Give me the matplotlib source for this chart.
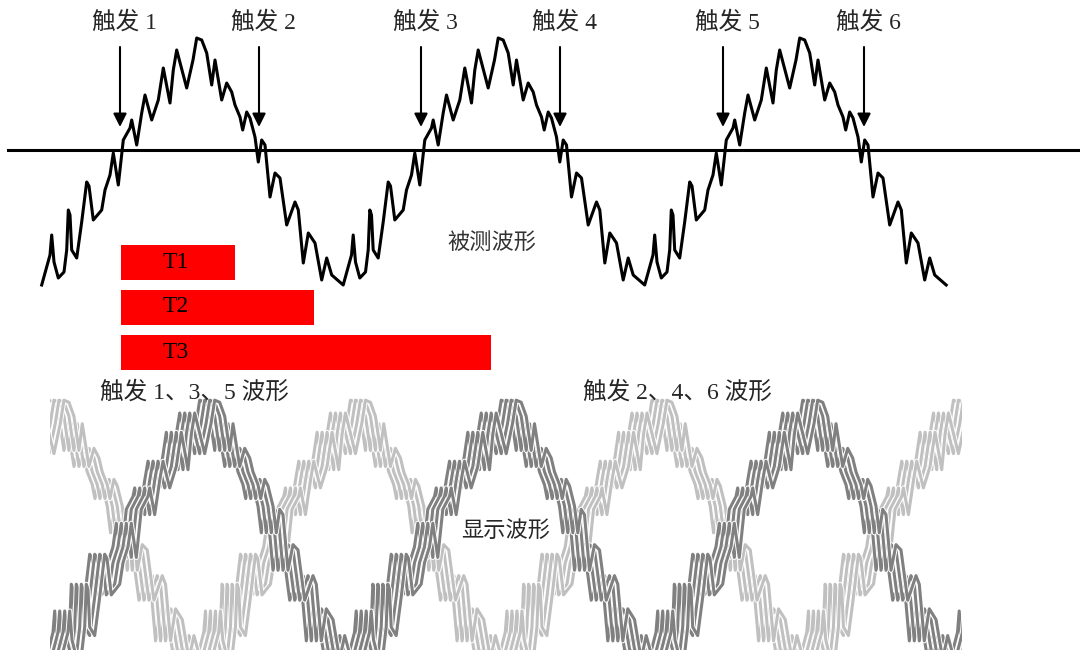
import matplotlib
matplotlib.use("Agg")
import matplotlib.pyplot as plt
import matplotlib.patheffects as pe
from matplotlib.patches import Rectangle

plt.rcParams['font.family'] = ['Liberation Serif', 'Noto Sans CJK SC']

# one period of the measured (noisy) waveform, read off the picture
# t = px from the start of the period, v = px above the trigger level
wave_t = [0.0, 8.3, 10.0, 12.3, 16.6, 22.3, 25.0, 26.6, 28.3, 30.0, 35.0, 40.0,
          45.0, 47.3, 51.6, 60.0, 63.3, 68.3, 71.6, 76.6, 81.6, 88.3, 90.0, 95.0,
          100.0, 103.3, 110.0, 116.6, 121.6, 128.3, 131.6, 135.0, 145.0, 151.3,
          155.0, 160.0, 165.0, 170.0, 173.3, 180.0, 185.0, 190.0, 193.3, 198.3,
          201.0, 205.0, 208.3, 213.3, 216.6, 220.0, 223.3, 228.3, 233.3, 238.3,
          245.0, 253.3, 256.6, 261.6, 266.6, 273.3, 280.0, 285.0, 290.0]
wave_v = [-135, -105, -85, -112, -128, -122, -100, -60, -65, -100, -108, -72,
          -32, -36, -70, -60, -40, -25, -3, -35, 10, 22, 30, 5,
          37, 55, 30, 50, 82, 47, 80, 100, 62, 90,
          112, 110, 97, 65, 90, 50, 67, 58, 45, 33,
          20, 38, 32, 13, -12, 10, 5, -47, -23, -28,
          -75, -52, -60, -113, -83, -93, -130, -108, -125]
period = 301.5
wave_start = 41.7

# triggers on the measured waveform
trigger_x = [120, 259, 421, 560, 723, 864]
trigger_labels = ['触发 1', '触发 2', '触发 3', '触发 4', '触发 5', '触发 6']

# time bars
bar_labels = ['T1', 'T2', 'T3']
bar_start = 121
bar_end = [235, 314, 491]
bar_y = [262, 307, 352]

# jitter of the overlaid traces on the display
dark_shift = [3, 8, 13, 18]
light_shift = [s + period / 2 for s in dark_shift]


def tile(n0, n1, shift):
    xs, vs = [], []
    for k in range(n0, n1):
        for t, v in zip(wave_t, wave_v):
            xs.append(wave_start + shift + k * period + t)
            vs.append(v)
    xs.append(wave_start + shift + n1 * period)
    vs.append(wave_v[0])
    return xs, vs


fig = plt.figure(figsize=(10.8, 6.5), dpi=100)
ax = fig.add_axes([0, 0, 1, 1])
ax.set_xlim(0, 1080)
ax.set_ylim(650, 0)
ax.axis('off')

# measured waveform
level = 150
ax.plot([8, 1080], [level, level], color='black', lw=2.2, zorder=2)
xs, vs = tile(0, 3, 0)
ax.plot(xs, [level - v for v in vs], color='black', lw=2.2, zorder=3,
        solid_joinstyle='round')

for x, lab in zip(trigger_x, trigger_labels):
    ax.annotate('', xy=(x, 127), xytext=(x, 47),
                arrowprops=dict(arrowstyle='-|>', lw=1.5, color='black',
                                mutation_scale=20, shrinkA=0, shrinkB=0))
    ax.text(x + 4, 22, lab, ha='center', va='center', fontsize=17,
            color='#262626')

ax.text(492, 243, '被测波形', ha='center', va='center', fontsize=16,
        color='#333333')

# T bars
for lab, x1, y in zip(bar_labels, bar_end, bar_y):
    ax.barh(y, x1 - bar_start, left=bar_start, height=35, color='#ff0000',
            zorder=2)
    ax.text(176, y, lab, ha='center', va='center', fontsize=17, color='black',
            zorder=3)

# display waveform (overlaid traces)
disp_level = 520
disp_gain = 1.07
clip = Rectangle((50, 395), 912, 260, transform=ax.transData)
halo = [pe.Stroke(linewidth=3.6, foreground='white'), pe.Normal()]
for shifts, col in [(light_shift, '#c0c0c0'), (dark_shift, '#808080')]:
    for s in shifts:
        xs, vs = tile(-1, 4, s)
        line, = ax.plot(xs, [disp_level - disp_gain * v for v in vs], color=col,
                        lw=2.2, zorder=2, solid_joinstyle='round',
                        path_effects=halo)
        line.set_clip_path(clip)

ax.text(194, 392, '触发 1、3、5 波形', ha='center', va='center', fontsize=17,
        color='#262626', zorder=5)
ax.text(677, 392, '触发 2、4、6 波形', ha='center', va='center', fontsize=17,
        color='#262626', zorder=5)
ax.text(506, 531, '显示波形', ha='center', va='center', fontsize=16,
        color='#262626', zorder=5)

fig.savefig('out.png', dpi=100, facecolor='white')
